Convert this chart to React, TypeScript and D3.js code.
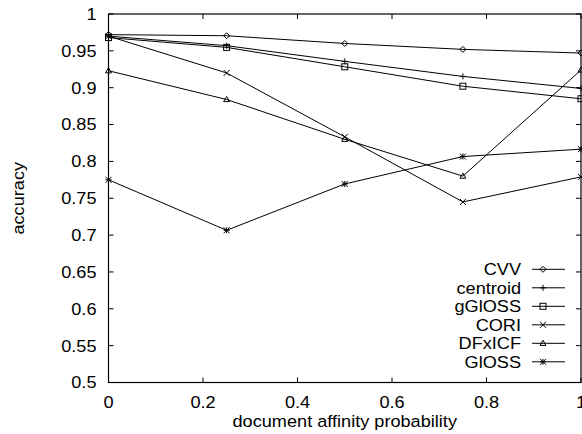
import { scaleLinear, line, range } from "d3";

const xs = [0, 0.25, 0.5, 0.75, 1];

const seriesNames = ["CVV", "centroid", "gGlOSS", "CORI", "DFxICF", "GlOSS"];
const markers = ["diamond", "plus", "square", "cross", "triangle", "star"];

const cvv = [0.972, 0.9705, 0.96, 0.952, 0.947];
const centroid = [0.97, 0.957, 0.9357, 0.9153, 0.899];
const ggloss = [0.968, 0.9547, 0.9284, 0.902, 0.885];
const cori = [0.97, 0.92, 0.8333, 0.745, 0.779];
const dfxicf = [0.923, 0.884, 0.83, 0.78, 0.924];
const gloss = [0.775, 0.7065, 0.7694, 0.8066, 0.8166];

const allSeries = [cvv, centroid, ggloss, cori, dfxicf, gloss];

const xTicks = [0, 0.2, 0.4, 0.6, 0.8, 1];
const yTicks = range(0, 11).map((i) => 0.5 + i * 0.05);

const W = 582;
const H = 434;
const margin = { top: 14, right: 1, bottom: 51.5, left: 108.5 };
const FS = 16.5;
const STRETCH = 1.1;

const fmt = (v: number) => (+v.toFixed(2)).toString();

// gnuplot's text is a little wider than Liberation Sans, so stretch it
const T = ({ x, y, anchor, rotate, children }: any) => (
  <text
    transform={`translate(${x},${y})${rotate ? ` rotate(${rotate})` : ""} scale(${STRETCH},1)`}
    textAnchor={anchor}
    fontSize={FS}
    fill="#000"
  >
    {children}
  </text>
);

const Marker = ({ type, x, y }: { type: string; x: number; y: number }) => {
  const s = 3;
  const st = { stroke: "#000", strokeWidth: 1, fill: "none" };
  if (type === "diamond")
    return <path d={`M${x},${y - s}L${x + s},${y}L${x},${y + s}L${x - s},${y}Z`} {...st} />;
  if (type === "plus")
    return <path d={`M${x - s},${y}H${x + s}M${x},${y - s}V${y + s}`} {...st} />;
  if (type === "square")
    return <rect x={x - s} y={y - s} width={2 * s} height={2 * s} {...st} />;
  if (type === "cross")
    return <path d={`M${x - s},${y - s}L${x + s},${y + s}M${x - s},${y + s}L${x + s},${y - s}`} {...st} />;
  if (type === "triangle")
    return <path d={`M${x},${y - s}L${x + s},${y + s * 0.7}L${x - s},${y + s * 0.7}Z`} {...st} />;
  return (
    <path
      d={`M${x - s},${y}H${x + s}M${x},${y - s}V${y + s}M${x - s},${y - s}L${x + s},${y + s}M${x - s},${y + s}L${x + s},${y - s}`}
      {...st}
    />
  );
};

export default function App() {
  const xScale = scaleLinear().domain([0, 1]).range([margin.left, W - margin.right]);
  const yScale = scaleLinear().domain([0.5, 1]).range([H - margin.bottom, margin.top]);

  const lineGen = line<number>()
    .x((_, i) => xScale(xs[i]))
    .y((d) => yScale(d));

  const x0 = xScale(0);
  const x1 = xScale(1);
  const y0 = yScale(0.5);
  const y1 = yScale(1);
  const tick = 5;

  const legendTextX = 521;
  const legendY0 = 269.3;
  const legendStep = 18.5;

  return (
    <svg
      width={W}
      height={H}
      style={{ position: "absolute", left: 0, top: 0 }}
      fontFamily="Liberation Sans, Arial, Helvetica, sans-serif"
    >
      <rect x={0} y={0} width={W} height={H} fill="#fff" />
      <g stroke="#000" strokeWidth={1}>
        {xTicks.map((t) => (
          <g key={"xt" + t}>
            <line x1={xScale(t)} x2={xScale(t)} y1={y0} y2={y0 - tick} />
            <line x1={xScale(t)} x2={xScale(t)} y1={y1} y2={y1 + tick} />
          </g>
        ))}
        {yTicks.map((t) => (
          <g key={"yt" + t}>
            <line x1={x0} x2={x0 + tick} y1={yScale(t)} y2={yScale(t)} />
            <line x1={x1} x2={x1 - tick} y1={yScale(t)} y2={yScale(t)} />
          </g>
        ))}
      </g>
      <rect x={x0} y={y1} width={x1 - x0} height={y0 - y1} fill="none" stroke="#000" strokeWidth={1.2} />
      {xTicks.map((t) => (
        <T key={"xl" + t} x={xScale(t)} y={407.7} anchor="middle">
          {fmt(t)}
        </T>
      ))}
      {yTicks.map((t) => (
        <T key={"yl" + t} x={96.5} y={yScale(t) + 5.9} anchor="end">
          {fmt(t)}
        </T>
      ))}
      <T x={(x0 + x1) / 2} y={426.7} anchor="middle">
        document affinity probability
      </T>
      <T x={23.5} y={(y0 + y1) / 2} anchor="middle" rotate={-90}>
        accuracy
      </T>
      {allSeries.map((vals, si) => (
        <g key={seriesNames[si]}>
          <path d={lineGen(vals) || ""} fill="none" stroke="#000" strokeWidth={1} />
          {vals.map((v, i) => (
            <Marker key={i} type={markers[si]} x={xScale(xs[i])} y={yScale(v)} />
          ))}
        </g>
      ))}
      {seriesNames.map((n, i) => {
        const ly = legendY0 + i * legendStep;
        return (
          <g key={"lg" + n}>
            <T x={legendTextX} y={ly + 5.9} anchor="end">
              {n}
            </T>
            <line x1={532} x2={565} y1={ly} y2={ly} stroke="#000" strokeWidth={1} />
            <Marker type={markers[i]} x={543} y={ly} />
          </g>
        );
      })}
    </svg>
  );
}
